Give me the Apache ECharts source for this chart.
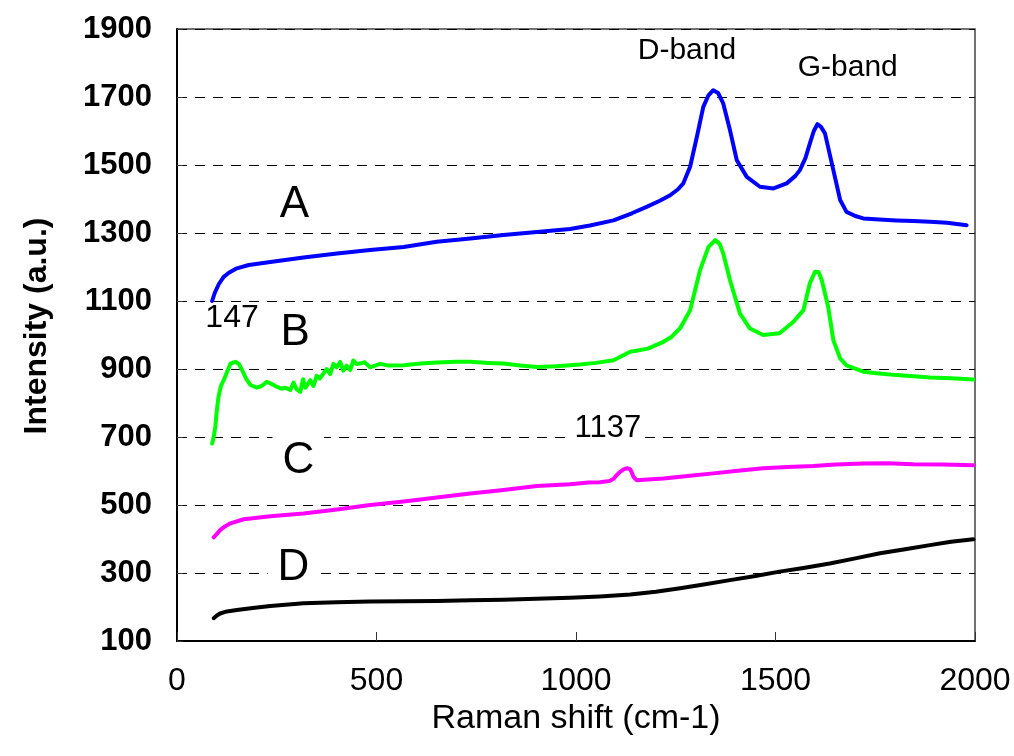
<!DOCTYPE html>
<html>
<head>
<meta charset="utf-8">
<script src="https://cdn.jsdelivr.net/npm/echarts@6/dist/echarts.min.js"></script>
<style>
html,body{margin:0;padding:0;background:#fff;}
#chart{width:1014px;height:756px;}
</style>
</head>
<body>
<div id="chart"></div>
<script>
// ---- data (Raman shift cm-1, intensity a.u.) ----
const A_x = [88, 95, 105, 117, 130, 150, 180, 234, 317, 401, 484, 568, 651, 735, 818, 902, 985, 1035, 1094, 1140, 1177, 1210, 1236, 1255, 1269, 1286, 1303, 1319, 1332, 1344, 1356, 1369, 1386, 1403, 1428, 1461, 1495, 1528, 1550, 1561, 1575, 1586, 1596, 1605, 1614, 1624, 1645, 1662, 1678, 1700, 1720, 1760, 1803, 1845, 1887, 1930, 1979];
const A_y = [1100, 1125, 1150, 1171, 1183, 1196, 1206, 1215, 1228, 1240, 1250, 1259, 1274, 1284, 1294, 1303, 1312, 1322, 1337, 1358, 1377, 1395, 1411, 1428, 1446, 1495, 1583, 1671, 1705, 1720, 1712, 1681, 1602, 1514, 1465, 1436, 1431, 1446, 1468, 1485, 1520, 1563, 1600, 1620, 1612, 1593, 1485, 1397, 1362, 1350, 1343, 1340, 1337, 1335, 1333, 1330, 1323];

const B_x = [88, 92, 96, 100, 104, 110, 117, 125, 134, 146, 155, 163, 173, 184, 200, 212, 225, 237, 250, 262, 272, 284, 292, 300, 309, 316, 322, 334, 342, 350, 358, 367, 375, 384, 392, 400, 409, 417, 425, 434, 442, 450, 459, 470, 484, 509, 530, 568, 610, 651, 700, 735, 780, 818, 860, 902, 950, 985, 1010, 1050, 1094, 1136, 1180, 1219, 1240, 1261, 1286, 1311, 1332, 1349, 1360, 1369, 1386, 1411, 1436, 1469, 1510, 1545, 1570, 1586, 1599, 1608, 1616, 1632, 1645, 1662, 1678, 1720, 1760, 1803, 1845, 1887, 1940, 1996];
const B_y = [681, 700, 730, 780, 818, 850, 867, 890, 916, 921, 915, 897, 872, 853, 845, 850, 862, 856, 848, 842, 845, 838, 860, 840, 833, 870, 845, 867, 850, 880, 872, 887, 900, 885, 915, 905, 921, 895, 910, 897, 925, 915, 916, 920, 905, 915, 910, 911, 916, 919, 921, 921, 918, 916, 910, 906, 908, 911, 913, 918, 926, 951, 960, 980, 995, 1020, 1073, 1191, 1259, 1279, 1268, 1240, 1161, 1063, 1019, 1000, 1005, 1039, 1073, 1152, 1186, 1185, 1161, 1083, 985, 931, 911, 892, 887, 882, 879, 875, 873, 869];

const C_x = [92, 100, 108, 120, 134, 167, 234, 317, 401, 484, 568, 651, 735, 818, 902, 985, 1031, 1060, 1085, 1095, 1102, 1110, 1119, 1128, 1136, 1140, 1144, 1152, 1180, 1219, 1280, 1344, 1400, 1469, 1530, 1595, 1650, 1720, 1780, 1845, 1920, 1996];
const C_y = [405, 415, 426, 437, 446, 458, 467, 475, 487, 500, 510, 522, 534, 544, 556, 561, 566, 567, 571, 578, 588, 597, 605, 608, 605, 595, 583, 573, 575, 578, 585, 593, 600, 608, 612, 615, 619, 622, 623, 620, 619, 617];

const D_x = [92, 100, 108, 125, 150, 190, 234, 317, 400, 484, 568, 651, 735, 818, 900, 985, 1060, 1136, 1200, 1261, 1320, 1386, 1450, 1510, 1570, 1636, 1700, 1762, 1825, 1887, 1940, 1996];
const D_y = [167, 175, 181, 187, 191, 197, 203, 211, 214, 216, 217, 218, 220, 221, 224, 227, 231, 237, 245, 255, 266, 279, 291, 304, 315, 328, 343, 358, 370, 382, 392, 399];

// annotations (text, x, y in data units)
const note_text = ['A', 'B', 'C', 'D', '147', '1137', 'D-band', 'G-band'];
const note_x    = [294, 296, 304, 292, 138, 1080, 1278, 1681];
const note_y    = [1382, 1006, 629, 315, 1050, 726, 1835, 1785];
const note_size = [44, 44, 44, 44, 32, 31, 30, 30];

const X_MIN = 0, X_MAX = 2000, X_STEP = 500;
const Y_MIN = 100, Y_MAX = 1900, Y_STEP = 200;

const FONT = '"Liberation Sans", Arial, sans-serif';

function zip(xs, ys) { return xs.map((x, i) => [x, ys[i]]); }

function lineSeries(name, xs, ys, color) {
  return {
    name: name, type: 'line', data: zip(xs, ys),
    showSymbol: false, symbol: 'none', smooth: false, z: 3,
    lineStyle: { color: color, width: 4, join: 'round', cap: 'round' },
    animation: false
  };
}

const chart = echarts.init(document.getElementById('chart'), null, { renderer: 'canvas' });

const notes = note_text.map((t, i) => ({
  value: [note_x[i], note_y[i]],
  label: {
    show: true, position: 'inside', formatter: t,
    fontSize: note_size[i], fontFamily: FONT, color: '#000', opacity: 1,
    backgroundColor: '#fff',
    padding: note_size[i] > 40 ? [4, 10] : [0, 2]
  }
}));

chart.setOption({
  animation: false,
  backgroundColor: '#fff',
  grid: { left: 177, right: 39, top: 29, bottom: 115, show: true, borderColor: '#444', borderWidth: 1.5 },
  xAxis: {
    type: 'value', min: X_MIN, max: X_MAX, interval: X_STEP,
    name: 'Raman shift (cm-1)', nameLocation: 'middle', nameGap: 60,
    nameTextStyle: { fontSize: 34, fontFamily: FONT, color: '#000' },
    axisLine: { show: true, onZero: false, lineStyle: { color: '#000', width: 2 } },
    axisTick: { show: true, inside: true, length: 9, lineStyle: { color: '#333', width: 1 } },
    axisLabel: { fontSize: 32, fontFamily: FONT, color: '#000', margin: 24, formatter: v => String(v) },
    splitLine: { show: false }
  },
  yAxis: {
    type: 'value', min: Y_MIN, max: Y_MAX, interval: Y_STEP,
    name: 'Intensity (a.u.)', nameLocation: 'middle', nameGap: 124, nameRotate: 90,
    nameTextStyle: { fontSize: 32, fontWeight: 'bold', fontFamily: FONT, color: '#000', padding: [0, 0, 0, 18] },
    axisLine: { show: true, onZero: false, lineStyle: { color: '#000', width: 2 } },
    axisTick: { show: true, inside: true, length: 6, lineStyle: { color: '#333', width: 1 } },
    axisLabel: { fontSize: 31, fontWeight: 'bold', fontFamily: FONT, color: '#000', margin: 25, formatter: v => String(v) },
    splitLine: { show: true, lineStyle: { color: '#000', width: 1, type: [10, 8] } }
  },
  series: [
    {
      type: 'scatter', data: notes, symbolSize: 0, z: 1, silent: true, animation: false,
      itemStyle: { opacity: 1 }
    },
    lineSeries('A', A_x, A_y, '#0000ff'),
    lineSeries('B', B_x, B_y, '#00ff00'),
    lineSeries('C', C_x, C_y, '#ff00ff'),
    lineSeries('D', D_x, D_y, '#000000')
  ]
});
</script>
</body>
</html>
